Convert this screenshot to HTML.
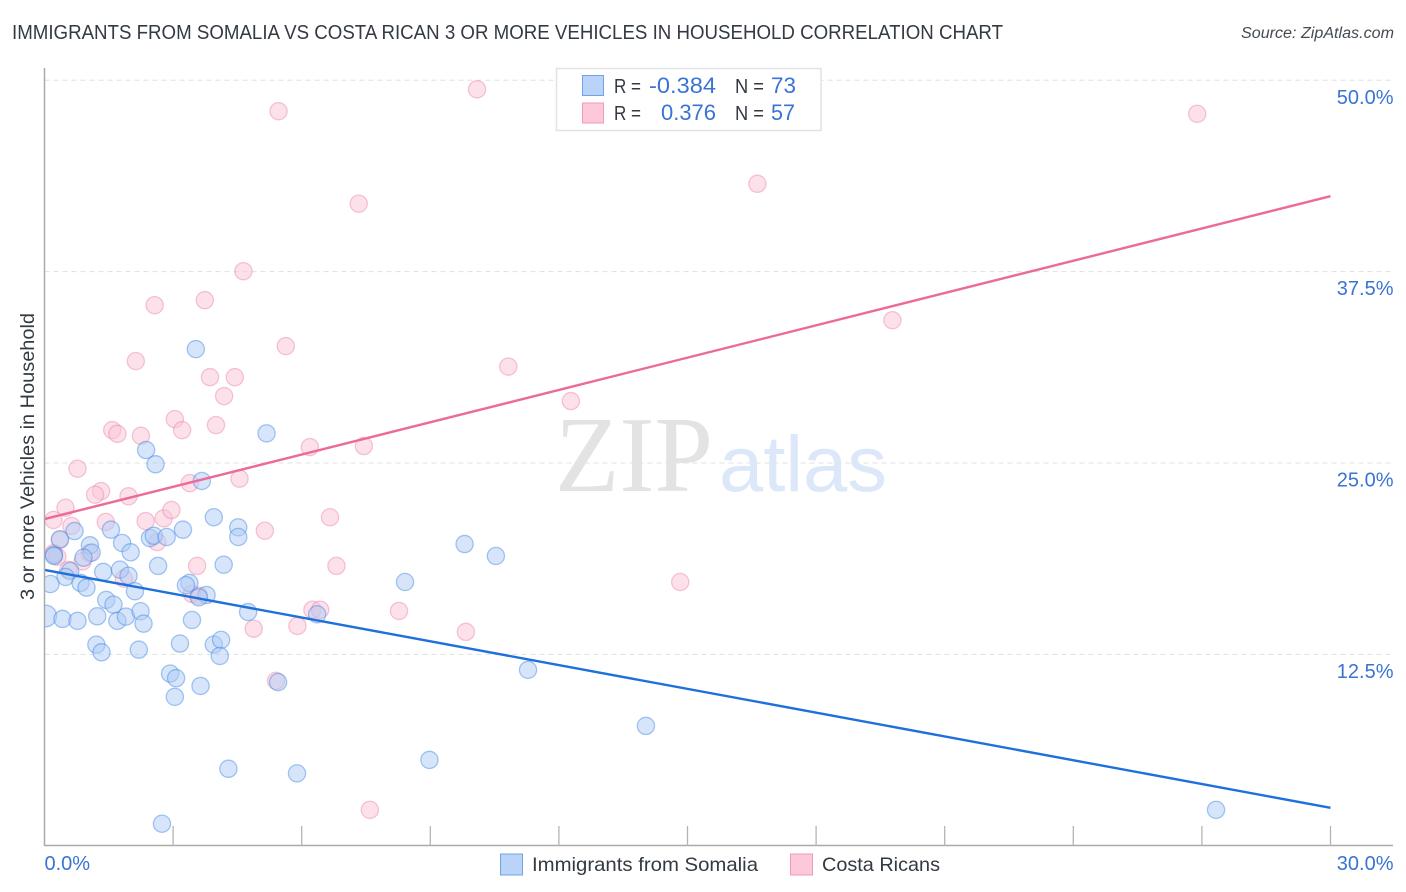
<!DOCTYPE html>
<html lang="en">
<head>
<meta charset="utf-8">
<title>Immigrants from Somalia vs Costa Rican 3 or More Vehicles in Household Correlation Chart</title>
<style>
html,body{margin:0;padding:0;background:#fff;width:1406px;height:892px;overflow:hidden}
svg{display:block}
text{font-family:"Liberation Sans",sans-serif}
</style>
</head>
<body>
<svg id="chart" xmlns="http://www.w3.org/2000/svg" width="1406" height="892" viewBox="0 0 1406 892">
  <defs>
    <clipPath id="plot-clip"><rect x="45" y="60" width="1350" height="786"/></clipPath>
  </defs>
  <rect x="0" y="0" width="1406" height="892" fill="#ffffff"/>
  <text x="12" y="39" font-size="20" fill="#333a42" textLength="991" lengthAdjust="spacingAndGlyphs">IMMIGRANTS FROM SOMALIA VS COSTA RICAN 3 OR MORE VEHICLES IN HOUSEHOLD CORRELATION CHART</text>
  <text x="1241" y="38" font-size="15.5" font-style="italic" fill="#444b52" textLength="153" lengthAdjust="spacingAndGlyphs">Source: ZipAtlas.com</text>

  <g id="grid"></g>

  <g>
    <text x="555" y="491" font-size="108" fill="#e3e3e3" style="font-family:'Liberation Serif',serif" textLength="158" lengthAdjust="spacingAndGlyphs">ZIP</text>
    <text x="719" y="491" font-size="79" fill="#dce8fa" textLength="168" lengthAdjust="spacingAndGlyphs">atlas</text>
  </g>

  <g id="pink-points" clip-path="url(#plot-clip)"></g>
  <g id="blue-points" clip-path="url(#plot-clip)"></g>
  <g id="trends"></g>

  <g id="axes"></g>

  <text transform="translate(34 600) rotate(-90)" font-size="19" fill="#333a42" textLength="287" lengthAdjust="spacingAndGlyphs">3 or more Vehicles in Household</text>

  <g>
    <rect x="556.5" y="68.5" width="264.5" height="62" fill="#ffffff" stroke="#e2e2e2" stroke-width="1.5"/>
    <rect x="582.5" y="75.5" width="21" height="20" fill="#b9d4f8" stroke="#6fa3e2" stroke-width="1"/>
    <rect x="582.5" y="103" width="21" height="20" fill="#fcc8da" stroke="#f09ab8" stroke-width="1"/>
    <text x="614" y="93" font-size="20" fill="#333a42" textLength="27" lengthAdjust="spacingAndGlyphs">R =</text>
    <text x="649" y="93" font-size="22" fill="#3a74d2" textLength="67" lengthAdjust="spacingAndGlyphs">-0.384</text>
    <text x="735" y="93" font-size="20" fill="#333a42" textLength="29" lengthAdjust="spacingAndGlyphs">N =</text>
    <text x="771" y="93" font-size="22" fill="#3a74d2" textLength="25" lengthAdjust="spacingAndGlyphs">73</text>
    <text x="614" y="120" font-size="20" fill="#333a42" textLength="27" lengthAdjust="spacingAndGlyphs">R =</text>
    <text x="661" y="120" font-size="22" fill="#3a74d2" textLength="55" lengthAdjust="spacingAndGlyphs">0.376</text>
    <text x="735" y="120" font-size="20" fill="#333a42" textLength="29" lengthAdjust="spacingAndGlyphs">N =</text>
    <text x="771" y="120" font-size="22" fill="#3a74d2" textLength="24" lengthAdjust="spacingAndGlyphs">57</text>
  </g>

  <g>
    <rect x="500.5" y="854" width="22" height="21" fill="#b9d4f8" stroke="#6fa3e2" stroke-width="1"/>
    <text x="532" y="871" font-size="19.5" fill="#333a42" textLength="226" lengthAdjust="spacingAndGlyphs">Immigrants from Somalia</text>
    <rect x="790.5" y="854" width="22" height="21" fill="#fcc8da" stroke="#f09ab8" stroke-width="1"/>
    <text x="822" y="871" font-size="19.5" fill="#333a42" textLength="118" lengthAdjust="spacingAndGlyphs">Costa Ricans</text>
  </g>
</svg>

<script>
const yTickValues = [12.5, 25, 37.5, 50];
const yTickLabels = ["12.5%", "25.0%", "37.5%", "50.0%"];
const xTickValues = [3, 6, 9, 12, 15, 18, 21, 24, 27, 30];
const xEndValues = [0, 30];
const xEndLabels = ["0.0%", "30.0%"];

const bluePoints = [
[5.18,26.94],[2.37,25.85],[2.59,24.92],[3.67,23.83],[3.95,21.46],[3.23,20.65],[4.52,20.80],[4.52,20.17],
[0.70,20.56],[1.55,20.65],[0.36,20.02],[2.46,20.10],[2.55,20.25],[2.85,20.17],[1.81,19.78],[1.06,19.63],
[1.10,19.15],[2.01,19.17],[0.91,18.82],[0.22,19.00],[0.22,18.93],[2.65,18.28],[4.18,18.36],[1.37,17.89],
[1.76,18.04],[1.96,17.64],[0.60,17.95],[0.49,17.56],[0.14,17.10],[0.84,17.17],[0.98,16.86],[2.11,16.63],
[3.38,17.17],[3.30,17.02],[3.78,16.38],[3.60,16.23],[1.44,16.06],[1.61,15.75],[4.75,15.27],[6.36,15.12],
[0.03,15.01],[0.42,14.82],[0.77,14.69],[1.23,14.99],[1.70,14.69],[1.90,14.97],[2.24,15.32],[2.31,14.51],
[3.44,14.75],[1.21,13.14],[1.33,12.64],[2.20,12.81],[3.16,13.21],[3.95,13.14],[4.12,13.45],[4.09,12.40],
[2.93,11.25],[3.07,10.95],[3.04,9.73],[3.64,10.44],[5.45,10.69],[3.53,32.44],[9.80,19.71],[10.53,18.93],
[8.41,17.23],[11.28,11.49],[14.03,7.83],[8.98,5.61],[5.89,4.73],[4.29,5.03],[2.74,1.44],[27.33,2.35]
];
const largeBluePoint = [0.03, 15.01];

const pinkPoints = [
[1.58,27.15],[1.70,26.91],[2.25,26.78],[3.04,27.87],[3.21,27.15],[4.00,27.48],[6.19,26.04],[0.77,24.63],
[3.39,23.69],[4.55,23.98],[1.32,23.17],[1.18,22.93],[1.96,22.83],[0.49,22.08],[0.21,21.28],[0.63,20.89],
[1.43,21.15],[2.36,21.21],[2.78,21.39],[2.96,21.93],[6.66,21.46],[5.14,20.58],[0.36,19.99],[2.63,19.84],
[0.21,19.11],[0.30,18.88],[1.05,19.11],[0.89,18.58],[3.56,18.28],[6.81,18.28],[0.56,18.02],[1.85,17.45],
[3.44,16.45],[3.60,16.34],[6.25,15.42],[6.43,15.42],[4.88,14.18],[5.90,14.36],[5.40,10.77],[5.46,47.98],
[10.09,49.41],[26.89,47.81],[7.33,41.94],[16.63,43.24],[4.64,37.53],[3.74,35.64],[2.57,35.31],[2.13,31.66],
[5.63,32.64],[19.78,34.33],[3.86,30.61],[4.44,30.61],[10.82,31.30],[4.19,29.37],[12.28,29.05],[7.45,26.11],
[8.27,15.34],[9.83,13.97],[14.83,17.23],[7.59,2.35]
];

const trendX = [0, 30];
const blueTrendY = [18.02, 2.48];
const pinkTrendY = [21.34, 42.43];

function xScale(v) { return 44.5 + v * (1286 / 30); }
function yScale(v) { return 845.8 - v * (765.5 / 50); }

const NS = "http://www.w3.org/2000/svg";
function make(tag, attrs, parent) {
  const el = document.createElementNS(NS, tag);
  for (const k in attrs) el.setAttribute(k, attrs[k]);
  parent.appendChild(el);
  return el;
}

const gridG = document.getElementById("grid");
const axesG = document.getElementById("axes");
const pinkG = document.getElementById("pink-points");
const blueG = document.getElementById("blue-points");
const trendG = document.getElementById("trends");

yTickValues.forEach(function (v, i) {
  const g = make("line", {x1: 44.5, x2: 1393, y1: yScale(v), y2: yScale(v), stroke: "#e0e0e0", "stroke-width": 1, "stroke-dasharray": "5 4"}, gridG);
  
  
  const t = make("text", {x: 1393.5, y: yScale(v) + 23.5, "font-size": 20, fill: "#3a74d2", "text-anchor": "end"}, axesG);
  
  
  t.textContent = yTickLabels[i];
});

const yAxis = make("line", {x1: 44.5, x2: 44.5, y1: 68, y2: 846, stroke: "#aaaaaa", "stroke-width": 1.5}, axesG);


const xAxis = make("line", {x1: 44, x2: 1393, y1: 845.5, y2: 845.5, stroke: "#aaaaaa", "stroke-width": 1.5}, axesG);



xTickValues.forEach(function (v) {
  const tick = make("line", {x1: xScale(v), x2: xScale(v), y1: 826, y2: 846, stroke: "#b4b4b4", "stroke-width": 1.3}, axesG);
  
  
});

xEndValues.forEach(function (v, i) {
  const lbl = make("text", {x: i === 0 ? xScale(v) : 1393.5, y: 870, "font-size": 20, fill: "#3a74d2", "text-anchor": i === 0 ? "start" : "end"}, axesG);
  
  
  lbl.textContent = xEndLabels[i];
});

pinkPoints.forEach(function (p) {
  const c = make("circle", {cx: xScale(p[0]), cy: yScale(p[1]), r: 8.6, fill: "#fbc4d6", "fill-opacity": 0.5, stroke: "#ea7ba0", "stroke-opacity": 0.42, "stroke-width": 1.3}, pinkG);
  
  
});

bluePoints.forEach(function (p) {
  const large = p[0] === largeBluePoint[0] && p[1] === largeBluePoint[1];
  const c = make("circle", {cx: xScale(p[0]), cy: yScale(p[1]), r: large ? 10.8 : 8.6, fill: "#aeccf6", "fill-opacity": 0.5, stroke: "#3f86e0", "stroke-opacity": 0.45, "stroke-width": 1.3}, blueG);
  
  
});

const pinkLine = make("line", {x1: xScale(trendX[0]), x2: xScale(trendX[1]), y1: yScale(pinkTrendY[0]), y2: yScale(pinkTrendY[1]), stroke: "#ec6a9a", "stroke-width": 2.4}, trendG);


const blueLine = make("line", {x1: xScale(trendX[0]), x2: xScale(trendX[1]), y1: yScale(blueTrendY[0]), y2: yScale(blueTrendY[1]), stroke: "#1f70dc", "stroke-width": 2.4}, trendG);


</script>
</body>
</html>
